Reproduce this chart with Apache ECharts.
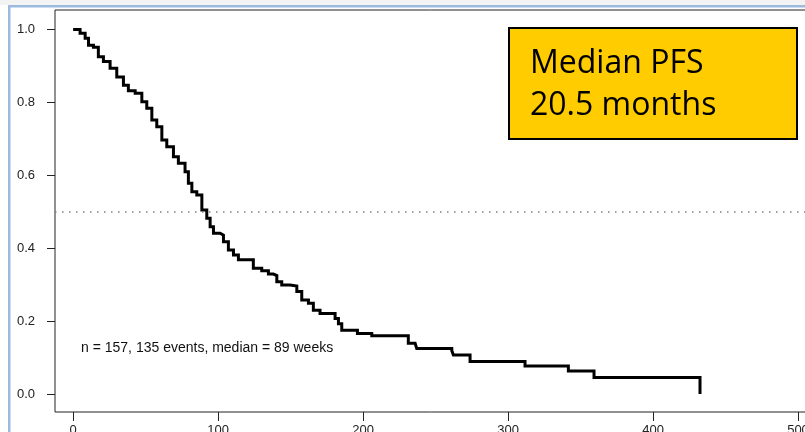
<!DOCTYPE html>
<html>
<head>
<meta charset="utf-8">
<script src="https://cdn.jsdelivr.net/npm/echarts@6/dist/echarts.min.js"></script>
<style>html,body{margin:0;padding:0;background:#fff}#c{width:805px;height:432px}</style>
</head>
<body>
<div id="c"></div>
<script>
// Kaplan-Meier curve: event times (weeks) and survival after each drop
var times = [0, 4.8, 8.3, 10.6, 14.0, 17.4, 20.9, 25.5, 30.1, 34.7, 38.1, 42.8, 47.4, 50.8, 54.3, 57.7,
  61.2, 64.6, 69.2, 72.6, 77.2, 79.5, 81.9, 85.3, 88.8, 92.2, 94.5, 96.8, 101.4, 103.7, 107.1, 110.6,
  114.0, 124.3, 130.1, 134.7, 138.1, 140.5, 143.9, 149.7, 154.3, 157.7, 162.3, 165.7, 170.3, 180.7,
  183.0, 185.3, 196.1, 206.0, 231.2, 235.9, 237.0, 261.2, 262.3, 273.8, 311.7, 341.6, 359.3, 432.4, 432.4];
var survival = [1.000, 0.990, 0.976, 0.957, 0.951, 0.925, 0.912, 0.894, 0.870, 0.847, 0.832, 0.825, 0.802, 0.784, 0.752, 0.733,
  0.697, 0.678, 0.651, 0.633, 0.610, 0.578, 0.555, 0.546, 0.505, 0.482, 0.459, 0.441, 0.436, 0.418, 0.395, 0.381,
  0.368, 0.345, 0.338, 0.329, 0.325, 0.308, 0.299, 0.296, 0.281, 0.258, 0.249, 0.230, 0.221, 0.207,
  0.193, 0.175, 0.166, 0.160, 0.139, 0.134, 0.125, 0.119, 0.107, 0.089, 0.077, 0.063, 0.045, 0.045, 0.000];
var xTicks = [0, 100, 200, 300, 400, 500];
var yTicks = [0, 0.2, 0.4, 0.6, 0.8, 1.0];
var medianLevel = 0.5;
var noteText = 'n = 157, 135 events, median = 89 weeks';
var boxLines = ['Median PFS', '20.5 months'];

var data = times.map(function (t, i) { return [t, survival[i]]; });
var chart = echarts.init(document.getElementById('c'), null, {renderer: 'canvas'});
var axisFont = {fontFamily: 'Liberation Sans, Arial, sans-serif', fontSize: 13, color: '#222'};
chart.setOption({
  animation: false,
  grid: {left: 55, top: 10, width: 801, height: 402, show: true, borderColor: '#222', borderWidth: 1,
         containLabel: false, outerBoundsMode: 'none'},
  xAxis: {
    type: 'value', min: -12.5, max: 540,
    splitLine: {show: false},
    axisLine: {show: false, onZero: false},
    axisTick: {show: true, length: 9, inside: false, customValues: xTicks, lineStyle: {color: '#222'}},
    axisLabel: Object.assign({margin: 12, customValues: xTicks, formatter: function (v) { return String(v); }}, axisFont)
  },
  yAxis: {
    type: 'value', min: -0.0494, max: 1.0535,
    splitLine: {show: false},
    axisLine: {show: false, onZero: false},
    axisTick: {show: true, length: 8, inside: false, customValues: yTicks, lineStyle: {color: '#222'}},
    axisLabel: Object.assign({margin: 20, customValues: yTicks, formatter: function (v) { return v.toFixed(1); }}, axisFont)
  },
  series: [{
    type: 'line', step: 'end', data: data, symbol: 'none', showSymbol: false,
    lineStyle: {color: '#000', width: 3, join: 'miter', cap: 'butt'},
    clip: true,
    markLine: {
      silent: true, symbol: ['none', 'none'], label: {show: false},
      lineStyle: {color: '#808080', width: 1.5, type: [1.5, 5.5]},
      data: [{yAxis: medianLevel}]
    }
  }],
  graphic: [
    {type: 'rect', shape: {x: 0, y: 0, width: 805, height: 5}, style: {fill: '#f3f3f3'}, silent: true},
    {type: 'rect', shape: {x: 8, y: 5, width: 797, height: 2.5}, style: {fill: '#9cb9de'}, silent: true},
    {type: 'rect', shape: {x: 8, y: 5, width: 2.5, height: 427}, style: {fill: '#9cb9de'}, silent: true},
    {type: 'text', left: 81, top: 341, style: {text: noteText, fontFamily: 'Liberation Sans, Arial, sans-serif', fontSize: 14, fill: '#111'}},
    {type: 'rect', shape: {x: 509, y: 28, width: 288, height: 111}, style: {fill: '#FFCC00', stroke: '#000', lineWidth: 2}},
    {type: 'text', x: 530, y: 64, style: {text: boxLines[0], fontFamily: 'Open Sans, sans-serif', fontSize: 32, fill: '#000', verticalAlign: 'middle'}},
    {type: 'text', x: 530, y: 106, style: {text: boxLines[1], fontFamily: 'Open Sans, sans-serif', fontSize: 32, fill: '#000', verticalAlign: 'middle'}}
  ]
});
</script>
</body>
</html>
